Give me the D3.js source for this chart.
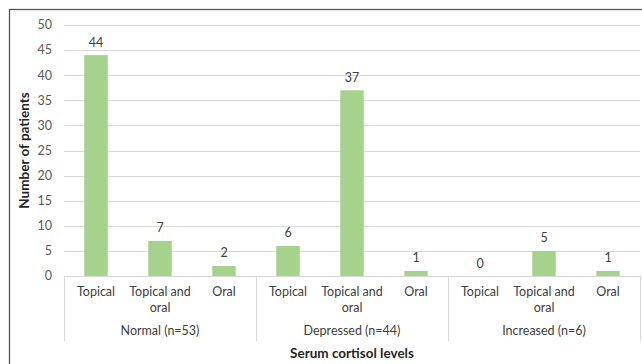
<!DOCTYPE html>
<html><head><meta charset="utf-8">
<script src="https://cdn.jsdelivr.net/npm/d3@7"></script>
<style>body{margin:0;background:#fff}svg{display:block}text{font-family:Lato,"Liberation Sans",sans-serif}</style>
</head><body><svg id="c" width="642" height="364"></svg>
<script>
const groups = ["Normal (n=53)", "Depressed (n=44)", "Increased (n=6)"];
const treatments = ["Topical", "Topical and oral", "Oral"];
const values = [[44, 7, 2], [6, 37, 1], [0, 5, 1]];
const yTicks = [0, 5, 10, 15, 20, 25, 30, 35, 40, 45, 50];
const yTitle = "Number of patients";
const xTitle = "Serum cortisol levels";

(function () {
const svg = d3.select("#c");
const W = 642, H = 364;
const pLeft = 64, pRight = 640, pTop = 25, pBottom = 276;

svg.append("rect").attr("x", 9.5).attr("y", 9.5).attr("width", W).attr("height", H)
  .attr("fill", "#fff").attr("stroke", "#555").attr("stroke-width", 1.3);

const y = d3.scaleLinear().domain([0, 50]).range([pBottom, pTop]);
const gx = d3.scaleBand().domain(groups).range([pLeft, pRight]);
const tx = d3.scaleBand().domain(treatments).range([0, gx.bandwidth()]);

svg.append("g").selectAll("line").data(yTicks).join("line")
  .attr("x1", pLeft).attr("x2", pRight)
  .attr("y1", d => Math.round(y(d)) + 0.5).attr("y2", d => Math.round(y(d)) + 0.5)
  .attr("stroke", "#d9d9d9").attr("stroke-width", 1);

svg.append("g").selectAll("text").data(yTicks).join("text")
  .attr("x", 52).attr("y", d => y(d)).attr("dy", "0.35em")
  .attr("text-anchor", "end").attr("font-size", 12.5).attr("fill", "#595959")
  .text(d => d);

const flat = [];
groups.forEach((g, i) => treatments.forEach((t, j) => flat.push({g, t, v: values[i][j]})));
const bw = 23.5;
svg.append("g").selectAll("rect").data(flat).join("rect")
  .attr("x", d => gx(d.g) + tx(d.t) + tx.bandwidth() / 2 - bw / 2)
  .attr("width", bw)
  .attr("y", d => y(d.v)).attr("height", d => y(0) - y(d.v))
  .attr("fill", "#a6d38c");

svg.append("g").selectAll("text").data(flat).join("text")
  .attr("x", d => gx(d.g) + tx(d.t) + tx.bandwidth() / 2)
  .attr("y", d => y(d.v) - 8.5)
  .attr("text-anchor", "middle").attr("font-size", 12.5).attr("fill", "#404040")
  .text(d => d.v);

svg.append("line").attr("x1", pLeft).attr("x2", pRight).attr("y1", pBottom + 0.5).attr("y2", pBottom + 0.5)
  .attr("stroke", "#d9d9d9");
const dividers = groups.map(g => gx(g)).concat([pRight]);
svg.append("g").selectAll("line").data(dividers).join("line")
  .attr("x1", d => Math.round(d) + 0.5).attr("x2", d => Math.round(d) + 0.5)
  .attr("y1", pBottom).attr("y2", 341)
  .attr("stroke", "#d9d9d9");

flat.forEach(d => {
  const cx = gx(d.g) + tx(d.t) + tx.bandwidth() / 2;
  const words = d.t === "Topical and oral" ? ["Topical and", "oral"] : [d.t];
  words.forEach((w, k) => {
    svg.append("text").attr("x", cx).attr("y", 296 + k * 15.5)
      .attr("text-anchor", "middle").attr("font-size", 12.5).attr("fill", "#404040").text(w);
  });
});

svg.append("g").selectAll("text").data(groups).join("text")
  .attr("x", d => gx(d) + gx.bandwidth() / 2).attr("y", 335)
  .attr("text-anchor", "middle").attr("font-size", 12.5).attr("fill", "#404040")
  .text(d => d);

svg.append("text").attr("x", (pLeft + pRight) / 2).attr("y", 358)
  .attr("text-anchor", "middle").attr("font-size", 13.5).attr("font-weight", "bold").attr("fill", "#262626")
  .text(xTitle);
svg.append("text").attr("transform", `translate(29,${(pTop + pBottom) / 2}) rotate(-90)`)
  .attr("text-anchor", "middle").attr("font-size", 13.5).attr("font-weight", "bold").attr("fill", "#262626")
  .text(yTitle);
})();
</script></body></html>
